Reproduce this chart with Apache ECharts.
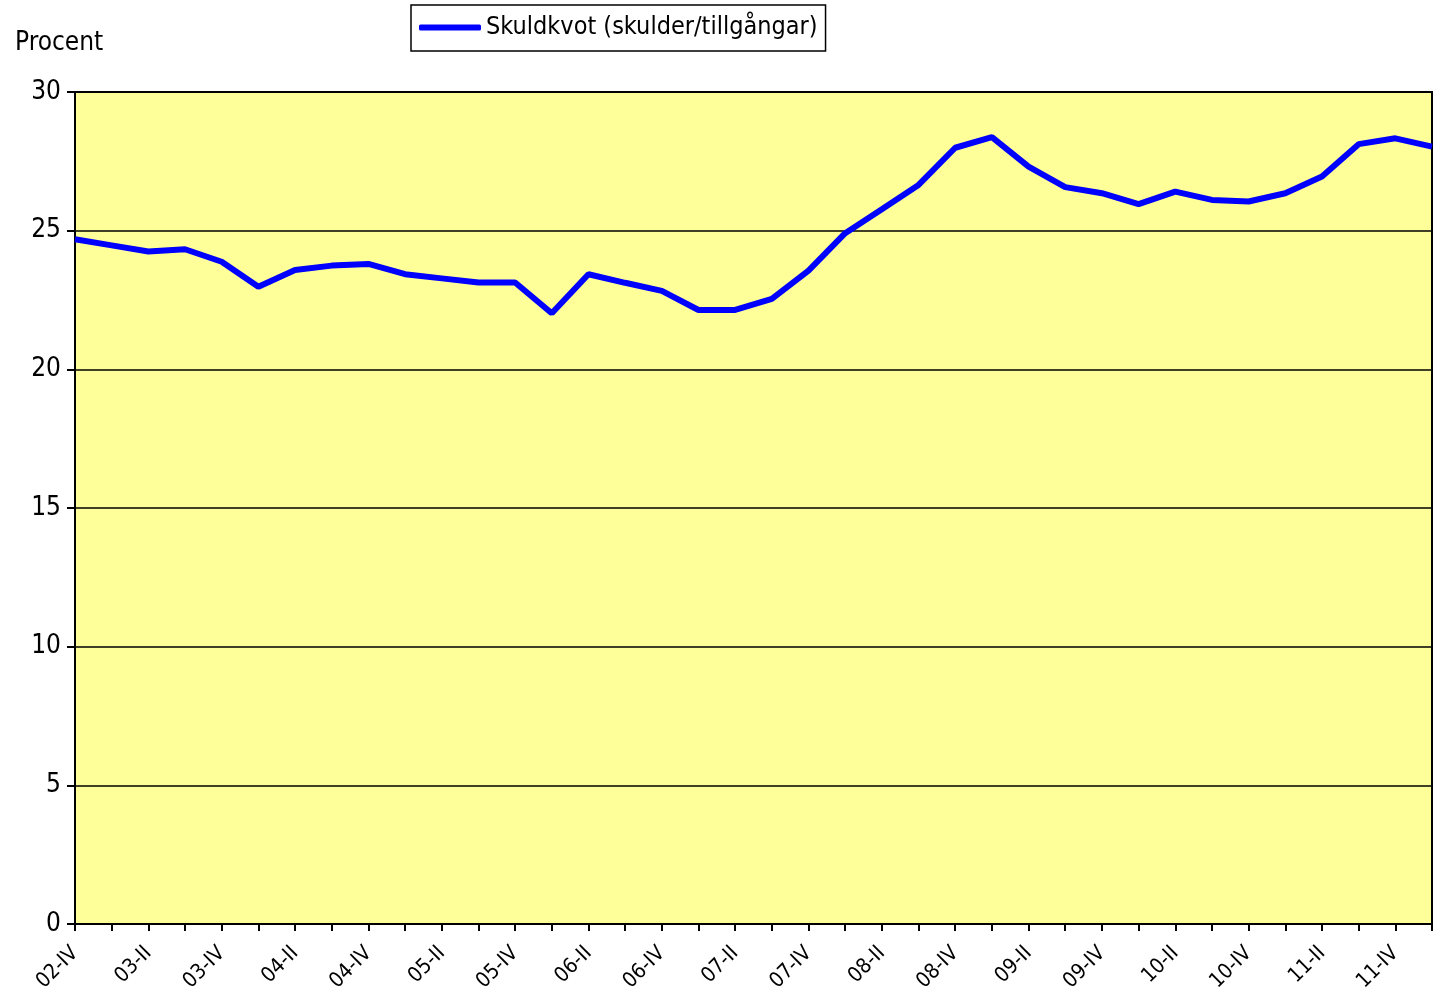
<!DOCTYPE html>
<html>
<head>
<meta charset="utf-8">
<script src="https://cdn.jsdelivr.net/npm/echarts@6/dist/echarts.min.js"></script>
<style>
  html, body { margin: 0; padding: 0; background: #fff; }
  #chart { width: 1435px; height: 991px; }
</style>
</head>
<body>
<div id="chart"></div>
<script>
// quarters 02-IV .. 12-I
const quarters = [
  "02-IV", "03-I", "03-II", "03-III", "03-IV", "04-I", "04-II", "04-III", "04-IV",
  "05-I", "05-II", "05-III", "05-IV", "06-I", "06-II", "06-III", "06-IV",
  "07-I", "07-II", "07-III", "07-IV", "08-I", "08-II", "08-III", "08-IV",
  "09-I", "09-II", "09-III", "09-IV", "10-I", "10-II", "10-III", "10-IV",
  "11-I", "11-II", "11-III", "11-IV", "12-I"
];

// Skuldkvot, percent
const debtRatio = [
  24.69, 24.47, 24.25, 24.33, 23.88, 22.98, 23.58, 23.74, 23.80,
  23.43, 23.28, 23.13, 23.13, 22.02, 23.43, 23.12, 22.83,
  22.14, 22.14, 22.54, 23.56, 24.91, 25.77, 26.65, 27.99,
  28.37, 27.31, 26.57, 26.35, 25.96, 26.41, 26.11, 26.05,
  26.35, 26.95, 28.12, 28.33, 28.03
];

const seriesName = "Skuldkvot (skulder/tillgångar)";
const font = "'Liberation Sans Narrow', 'DejaVu Sans Condensed', 'Liberation Sans', sans-serif";

const chart = echarts.init(document.getElementById("chart"));
chart.setOption({
  animation: false,
  textStyle: { fontFamily: font, color: "#000" },
  title: {
    text: "Procent",
    left: 10,
    top: 25,
    textStyle: { fontFamily: font, fontSize: 26, fontWeight: "normal", color: "#000" }
  },
  legend: {
    data: [seriesName],
    left: 411,
    top: 5,
    padding: [10, 8, 11, 8],
    borderColor: "#000",
    borderWidth: 1.5,
    icon: "roundRect",
    itemWidth: 62,
    itemHeight: 6,
    itemGap: 6,
    textStyle: { fontFamily: font, fontSize: 25, color: "#000" }
  },
  grid: {
    left: 75,
    right: 3,
    top: 92,
    bottom: 67,
    outerBoundsMode: "none",
    containLabel: false,
    show: true,
    backgroundColor: "#FFFF99",
    borderColor: "#000",
    borderWidth: 2
  },
  xAxis: {
    type: "category",
    data: quarters,
    boundaryGap: false,
    axisLine: { lineStyle: { color: "#000", width: 2 } },
    axisTick: { show: true, interval: 0, length: 7, lineStyle: { color: "#000", width: 2 } },
    axisLabel: {
      interval: 1,
      rotate: 45,
      margin: 26,
      fontSize: 21,
      color: "#000",
      fontFamily: font
    },
    splitLine: { show: false }
  },
  yAxis: {
    type: "value",
    min: 0,
    max: 30,
    interval: 5,
    axisLine: { show: true, lineStyle: { color: "#000", width: 2 } },
    axisTick: { show: true, length: 8, lineStyle: { color: "#000", width: 2 } },
    axisLabel: { fontSize: 26, color: "#000", margin: 14, fontFamily: font },
    splitLine: { show: true, lineStyle: { color: "#000", width: 1.5 } }
  },
  series: [
    {
      name: seriesName,
      type: "line",
      data: debtRatio,
      symbol: "none",
      color: "#0000FF",
      lineStyle: { color: "#0000FF", width: 6 }
    }
  ]
});
</script>
</body>
</html>
